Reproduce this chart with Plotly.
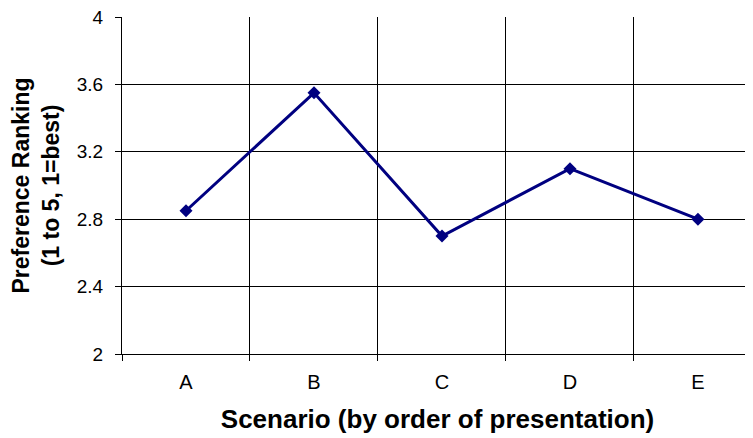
import plotly.graph_objects as go

scenarios = ["A", "B", "C", "D", "E"]
ranking = [2.85, 3.55, 2.70, 3.10, 2.80]

fig = go.Figure()
fig.add_trace(go.Scatter(
    x=scenarios,
    y=ranking,
    mode="lines+markers",
    line=dict(color="#000080", width=3),
    marker=dict(symbol="diamond", size=10, color="#000080"),
))

font = "Liberation Sans, Arial, sans-serif"

# page body adds an 8px offset, so the figure is shrunk to fit the window
fig.update_layout(
    width=745,
    height=430,
    margin=dict(l=114, r=0, t=9, b=84, autoexpand=False),
    plot_bgcolor="white",
    paper_bgcolor="white",
    showlegend=False,
    font=dict(family=font, color="black"),
)

fig.update_xaxes(
    type="category",
    range=[-0.5, 4.43],
    automargin=False,
    tickson="boundaries",
    ticks="outside",
    ticklen=6,
    tickcolor="black",
    showgrid=True,
    gridcolor="black",
    gridwidth=1,
    showline=True,
    linecolor="black",
    linewidth=1,
    tickfont=dict(size=20),
    ticklabelstandoff=10,
    title=dict(text="<b>Scenario (by order of presentation)</b>",
               font=dict(size=26), standoff=17),
)

fig.update_yaxes(
    range=[2, 4],
    dtick=0.4,
    automargin=False,
    ticks="outside",
    ticklen=6,
    tickcolor="black",
    showgrid=True,
    gridcolor="black",
    gridwidth=1,
    showline=True,
    linecolor="black",
    linewidth=1,
    zeroline=False,
    tickfont=dict(size=19),
    ticklabelstandoff=8,
    ticklabeloverflow="allow",
    title=dict(text="<b>Preference Ranking<br>(1 to 5, 1=best)</b>",
               font=dict(size=23), standoff=18),
)

fig.write_html("out.html")
